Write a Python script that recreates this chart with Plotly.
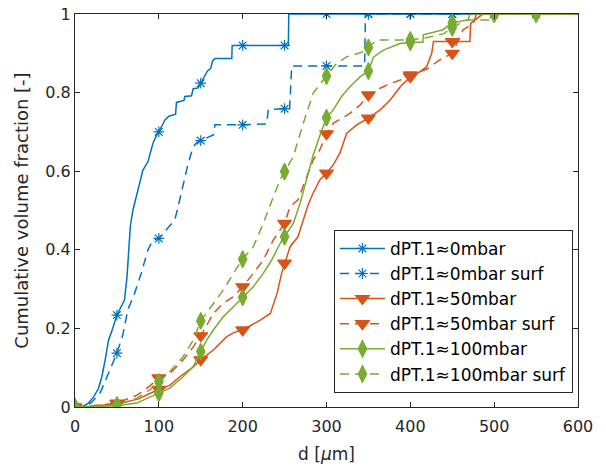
import plotly.graph_objects as go

# ---------------- data ----------------
d_0 = [0, 8, 16, 22, 28, 32, 36, 40, 45, 50, 55, 59, 62, 64, 66, 69, 75, 81, 87, 93, 97,
       100, 105, 107, 112, 120, 121, 130, 131, 139, 141, 147, 150, 155, 158, 162, 164, 167,
       187, 187.5, 200, 250, 254.5, 255, 300, 350, 400, 450, 500, 550, 600]
F_0 = [0, 0, 0.01, 0.025, 0.047, 0.077, 0.12, 0.17, 0.20, 0.234, 0.255, 0.272, 0.33, 0.40,
       0.46, 0.50, 0.552, 0.603, 0.624, 0.671, 0.69, 0.70, 0.72, 0.73, 0.74, 0.745, 0.775,
       0.78, 0.79, 0.792, 0.81, 0.812, 0.824, 0.84, 0.855, 0.862, 0.88, 0.887, 0.887, 0.92,
       0.92, 0.92, 0.92, 1, 1, 1, 1, 1, 1, 1, 1]

d_0s = [0, 12, 20, 30, 40, 50, 57, 63, 71, 79, 87, 93, 100, 109, 119, 123, 129, 135, 141,
        145, 150, 165, 167, 200, 228.6, 230.6, 250, 256, 258.5, 300, 345.5, 346.5, 350, 400,
        450, 500, 550, 600]
F_0s = [0, 0, 0.012, 0.036, 0.086, 0.137, 0.183, 0.247, 0.289, 0.34, 0.40, 0.425, 0.429,
        0.45, 0.476, 0.51, 0.569, 0.62, 0.662, 0.672, 0.678, 0.692, 0.718, 0.718, 0.72, 0.757,
        0.759, 0.759, 0.868, 0.868, 0.868, 1, 1, 1, 1, 1, 1, 1]

d_50 = [0, 20, 50, 75, 90, 100, 113, 125, 140, 150, 165, 181, 190, 200, 210, 221, 233, 241,
        246.5, 250, 256.5, 266, 272, 278, 284, 292, 300, 308, 316, 324, 336, 350, 364, 376,
        388, 400, 411.5, 419.5, 425.5, 427.6, 450, 471, 472, 485, 490, 500, 550, 600]
F_50 = [0, 0.002, 0.008, 0.02, 0.035, 0.045, 0.055, 0.077, 0.10, 0.12, 0.145, 0.179, 0.19,
        0.196, 0.208, 0.221, 0.238, 0.289, 0.34, 0.366, 0.408, 0.433, 0.476, 0.514, 0.544,
        0.578, 0.595, 0.616, 0.646, 0.696, 0.718, 0.735, 0.756, 0.781, 0.815, 0.84, 0.853,
        0.866, 0.90, 0.93, 0.93, 0.93, 0.976, 0.998, 1, 1, 1, 1]

d_50s = [0, 20, 50, 74, 90, 100, 113, 129, 141, 150, 165, 177, 189, 200, 212.7, 224.6, 236.6,
         250, 256.5, 266, 276.4, 284, 292, 300, 308, 318, 328, 340, 350, 364, 376, 388, 400,
         420, 435, 450, 463, 475, 479, 500, 550, 600]
F_50s = [0, 0.003, 0.01, 0.03, 0.055, 0.074, 0.085, 0.12, 0.153, 0.181, 0.238, 0.264, 0.281,
         0.306, 0.34, 0.374, 0.425, 0.467, 0.51, 0.527, 0.586, 0.628, 0.654, 0.695, 0.722,
         0.735, 0.747, 0.768, 0.794, 0.811, 0.823, 0.832, 0.845, 0.86, 0.883, 0.90, 0.96,
         0.976, 1, 1, 1, 1]

d_100 = [0, 25, 50, 73.6, 90, 100, 113, 129, 141, 150, 157, 165, 177, 189, 200, 212.7, 224.6,
         234.6, 244.6, 250, 260.4, 268.4, 276.4, 284, 292, 300, 308, 318, 328, 340, 350, 356,
         367.8, 387.7, 400, 415, 415.5, 439, 450, 469, 471, 500, 550, 600]
F_100 = [0, 0.001, 0.003, 0.01, 0.025, 0.035, 0.048, 0.077, 0.103, 0.141, 0.17, 0.196, 0.23,
         0.255, 0.279, 0.306, 0.34, 0.374, 0.416, 0.433, 0.467, 0.518, 0.578, 0.64, 0.69,
         0.736, 0.756, 0.79, 0.815, 0.84, 0.855, 0.89, 0.908, 0.925, 0.928, 0.928, 0.947,
         0.96, 0.978, 0.985, 1, 1, 1, 1]

d_100s = [0, 25, 50, 73.6, 90, 100, 113, 129, 141, 150, 165, 177, 189, 200, 212.7, 224.6,
          236.6, 244.6, 250, 260.4, 272.3, 284, 296, 300, 312, 324, 344, 350, 360, 390, 400,
          420, 440, 450, 467, 495, 497, 500, 550, 600]
F_100s = [0, 0.002, 0.005, 0.022, 0.045, 0.064, 0.09, 0.128, 0.17, 0.219, 0.264, 0.298, 0.34,
          0.376, 0.408, 0.467, 0.535, 0.578, 0.599, 0.637, 0.722, 0.798, 0.832, 0.842, 0.874,
          0.891, 0.904, 0.915, 0.934, 0.934, 0.934, 0.94, 0.95, 0.965, 0.985, 0.985, 1, 1, 1, 1]

marker_d = [0, 50, 100, 150, 200, 250, 300, 350, 400, 450, 500, 550]

names = ["dPT.1≈0mbar", "dPT.1≈0mbar surf", "dPT.1≈50mbar", "dPT.1≈50mbar surf",
         "dPT.1≈100mbar", "dPT.1≈100mbar surf"]

x_ticks = [0, 100, 200, 300, 400, 500, 600]
y_ticks = [0, 0.2, 0.4, 0.6, 0.8, 1]
y_tick_labels = ["0", "0.2", "0.4", "0.6", "0.8", "1"]

# ---------------- styles ----------------
BLUE, ORANGE, GREEN = "#0072BD", "#D95319", "#77AC30"
DASH = "9px,6px"
series = [
    (d_0, F_0, BLUE, "solid", "asterisk-open", 9),
    (d_0s, F_0s, BLUE, DASH, "asterisk-open", 9),
    (d_50, F_50, ORANGE, "solid", "triangle-down", 12),
    (d_50s, F_50s, ORANGE, DASH, "triangle-down", 12),
    (d_100, F_100, GREEN, "solid", "diamond-tall", 12),
    (d_100s, F_100s, GREEN, DASH, "diamond-tall", 12),
]

fig = go.Figure()
for i, (dx, fy, col, dash, sym, sz) in enumerate(series):
    fig.add_trace(go.Scatter(x=dx, y=fy, mode="lines", showlegend=False,
                             line=dict(color=col, width=1.5, dash=dash)))
    mx = [a for a in dx if a in marker_d]
    my = [b for a, b in zip(dx, fy) if a in marker_d]
    mk = dict(symbol=sym, size=sz, color=col, line=dict(color=col, width=1.2))
    fig.add_trace(go.Scatter(x=mx, y=my, mode="markers", showlegend=False, marker=mk))
    fig.add_trace(go.Scatter(x=[None], y=[None], mode="lines+markers", name=names[i],
                             legendgroup=f"g{i}",
                             line=dict(color=col, width=1.5, dash=dash), marker=mk))

FONT = "DejaVu Sans, Arial, sans-serif"
AX = "#262626"
axis_common = dict(showline=True, linecolor=AX, linewidth=1, mirror="ticks",
                   ticks="inside", ticklen=5, tickcolor=AX, showgrid=False,
                   zeroline=False, automargin=False,
                   tickfont=dict(family=FONT, size=16, color=AX))

fig.update_layout(
    width=606, height=466,
    margin=dict(l=75, r=28, t=14, b=59),
    paper_bgcolor="white", plot_bgcolor="white",
    font=dict(family=FONT, size=16, color=AX),
    xaxis=dict(range=[0, 600], tickvals=x_ticks, ticktext=[str(t) for t in x_ticks],
               ticklabelstandoff=5,
               title=dict(text="d [<i>μ</i>m]", font=dict(family=FONT, size=17, color=AX),
                          standoff=12),
               **axis_common),
    yaxis=dict(range=[0, 1], tickvals=y_ticks, ticktext=y_tick_labels,
               title=dict(text="Cumulative volume fraction [-]",
                          font=dict(family=FONT, size=18, color=AX), standoff=12),
               **axis_common),
    legend=dict(x=0.990, y=0.036, xanchor="right", yanchor="bottom",
                bgcolor="white", bordercolor=AX, borderwidth=1,
                font=dict(family=FONT, size=17, color="#000000"),
                traceorder="grouped", tracegroupgap=0, itemwidth=45),
)

fig.write_html("out.html")
